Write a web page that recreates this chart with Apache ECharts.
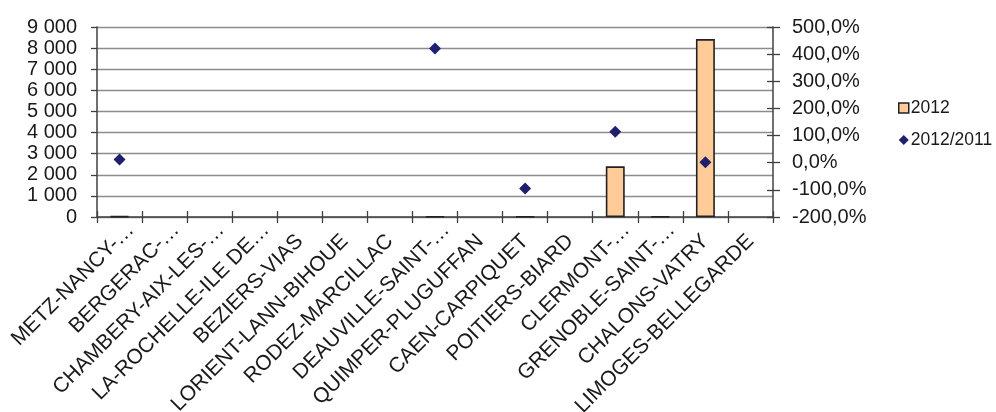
<!DOCTYPE html>
<html>
<head>
<meta charset="utf-8">
<script src="https://cdn.jsdelivr.net/npm/echarts@6/dist/echarts.min.js"></script>
<style>
html,body{margin:0;padding:0;background:#fff;}
#chart{width:996px;height:412px;}
</style>
</head>
<body>
<div id="chart"></div>
<script>
const categories = ["METZ-NANCY-…","BERGERAC-…","CHAMBERY-AIX-LES-…","LA-ROCHELLE-ILE DE…","BEZIERS-VIAS","LORIENT-LANN-BIHOUE","RODEZ-MARCILLAC","DEAUVILLE-SAINT-…","QUIMPER-PLUGUFFAN","CAEN-CARPIQUET","POITIERS-BIARD","CLERMONT-…","GRENOBLE-SAINT-…","CHALONS-VATRY","LIMOGES-BELLEGARDE"];
const values2012 = [40, null, null, null, null, null, null, 30, null, 30, null, 2400, 30, 8430, null];
const ratio2012_2011 = [12, null, null, null, null, null, null, 421, null, -95, null, 114, null, 2, null];
const leftTicks = {min: 0, max: 9000, interval: 1000};
const rightTicks = {min: -200, max: 500, interval: 100};

const FONT = '"Liberation Sans", Arial, sans-serif';
const AX = '#404040';
const catData = categories.map(c => c.endsWith('…')
  ? {value: c, textStyle: {padding: [0, -16, 0, 0]}}
  : c);
const chart = echarts.init(document.getElementById('chart'), null, {renderer: 'canvas'});
chart.setOption({
  animation: false,
  backgroundColor: '#ffffff',
  textStyle: {fontFamily: FONT},
  grid: {left: 97, right: 223, top: 27, bottom: 195, containLabel: false, outerBoundsMode: 'none'},
  legend: {
    orient: 'vertical', left: 893, top: 94, itemGap: 14,
    itemWidth: 10, itemHeight: 10,
    textStyle: {fontFamily: FONT, fontSize: 17.5, color: '#1a1a1a', padding: [0,0,0,-3]},
    data: [
      {name: '2012', icon: 'rect', itemStyle: {color: '#FFCC99', borderColor: '#222', borderWidth: 1.5}},
      {name: '2012/2011', icon: 'diamond', itemStyle: {color: '#1F1F6E', opacity: 1}}
    ]
  },
  xAxis: [{
    type: 'category', data: catData, position: 'bottom',
    axisLine: {show: true, onZero: false, lineStyle: {color: AX, width: 1.5}},
    axisTick: {show: true, interval: 0, alignWithLabel: false, length: 6, lineStyle: {color: AX, width: 1.3}},
    axisLabel: {rotate: 45, interval: 0, margin: 21, fontFamily: FONT, fontSize: 21, color: '#1a1a1a', hideOverlap: false}
  }, {
    type: 'category', data: categories, position: 'bottom',
    axisLine: {show: false, onZero: false},
    axisTick: {show: true, interval: 0, inside: true, length: 6, lineStyle: {color: AX, width: 1.3}},
    axisLabel: {show: false}
  }],
  yAxis: [{
    type: 'value', position: 'left', min: leftTicks.min, max: leftTicks.max, interval: leftTicks.interval,
    axisLine: {show: true, lineStyle: {color: AX, width: 1.5}},
    axisTick: {show: true, length: 6, lineStyle: {color: AX, width: 1.3}},
    splitLine: {show: true, lineStyle: {color: '#8c8c8c', width: 1.4}},
    axisLabel: {margin: 20, fontFamily: FONT, fontSize: 20, color: '#1a1a1a',
      formatter: v => String(v).replace(/\B(?=(\d{3})+(?!\d))/g, ' ')}
  }, {
    type: 'value', position: 'right', min: rightTicks.min, max: rightTicks.max, interval: rightTicks.interval,
    axisLine: {show: true, lineStyle: {color: AX, width: 1.5}},
    axisTick: {show: true, length: 7, lineStyle: {color: AX, width: 1.3}},
    splitLine: {show: false},
    axisLabel: {margin: 19, fontFamily: FONT, fontSize: 20, color: '#1a1a1a',
      formatter: v => v.toFixed(1).replace('.', ',') + '%'}
  }, {
    type: 'value', position: 'right', min: rightTicks.min, max: rightTicks.max, interval: rightTicks.interval,
    axisLine: {show: false},
    axisTick: {show: true, inside: true, length: 6, lineStyle: {color: AX, width: 1.3}},
    splitLine: {show: false},
    axisLabel: {show: false}
  }],
  series: [{
    name: '2012', type: 'bar', xAxisIndex: 0, yAxisIndex: 0,
    data: values2012, barWidth: '42%',
    itemStyle: {color: '#FFCC99', borderColor: '#222', borderWidth: 1.6}
  }, {
    name: '2012/2011', type: 'scatter', xAxisIndex: 0, yAxisIndex: 1,
    data: ratio2012_2011, symbol: 'diamond', symbolSize: [12, 12],
    itemStyle: {color: '#1F1F6E', opacity: 1}
  }]
});
</script>
</body>
</html>
